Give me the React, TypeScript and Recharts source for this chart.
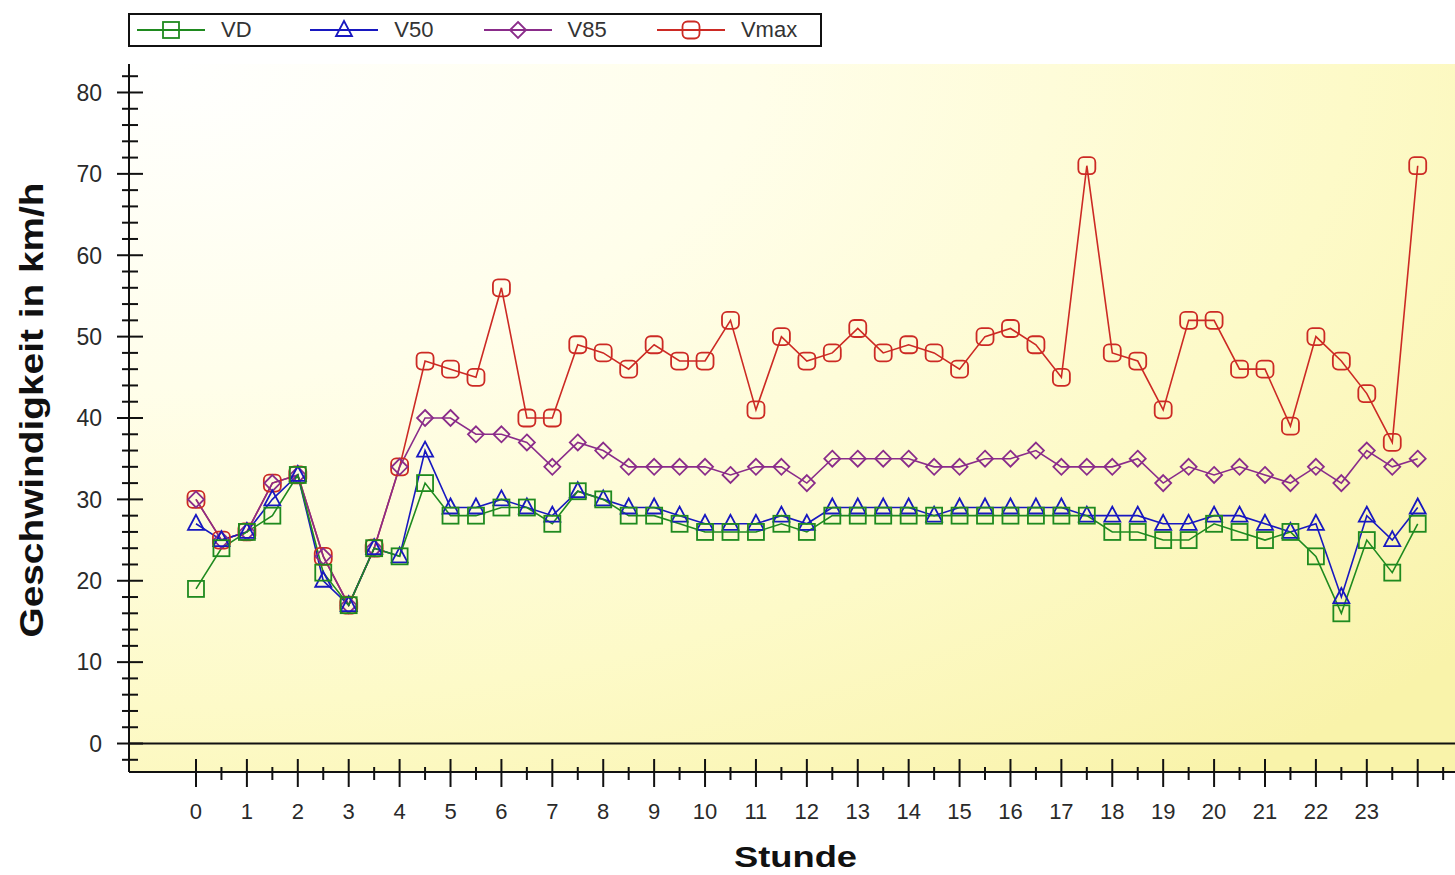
import React from 'react';
import { LineChart, Line, XAxis, YAxis, CartesianGrid, ReferenceLine } from 'recharts';

// Stunde (halbstündlich)
const HOURS = [
    0, 0.5, 1, 1.5, 2, 2.5, 3, 3.5, 4, 4.5, 5, 5.5, 6, 6.5, 7, 7.5, 8, 8.5, 9, 9.5,
    10, 10.5, 11, 11.5, 12, 12.5, 13, 13.5, 14, 14.5, 15, 15.5, 16, 16.5, 17, 17.5,
    18, 18.5, 19, 19.5, 20, 20.5, 21, 21.5, 22, 22.5, 23, 23.5, 24,
];

const VD = [
    19, 24, 26, 28, 33, 21, 17, 24, 23, 32, 28, 28, 29, 29, 27, 31, 30, 28, 28, 27,
    26, 26, 26, 27, 26, 28, 28, 28, 28, 28, 28, 28, 28, 28, 28, 28,
    26, 26, 25, 25, 27, 26, 25, 26, 23, 16, 25, 21, 27,
];

const V50 = [
    27, 25, 26, 30, 33, 20, 17, 24, 23, 36, 29, 29, 30, 29, 28, 31, 30, 29, 29, 28,
    27, 27, 27, 28, 27, 29, 29, 29, 29, 28, 29, 29, 29, 29, 29, 28,
    28, 28, 27, 27, 28, 28, 27, 26, 27, 18, 28, 25, 29,
];

const V85 = [
    30, 25, 26, 32, 33, 23, 17, 24, 34, 40, 40, 38, 38, 37, 34, 37, 36, 34, 34, 34,
    34, 33, 34, 34, 32, 35, 35, 35, 35, 34, 34, 35, 35, 36, 34, 34,
    34, 35, 32, 34, 33, 34, 33, 32, 34, 32, 36, 34, 35,
];

const VMAX = [
    30, 25, 26, 32, 33, 23, 17, 24, 34, 47, 46, 45, 56, 40, 40, 49, 48, 46, 49, 47,
    47, 52, 41, 50, 47, 48, 51, 48, 49, 48, 46, 50, 51, 49, 45, 71,
    48, 47, 41, 52, 52, 46, 46, 39, 50, 47, 43, 37, 71,
];

const X_LABELS = [
    '0', '1', '2', '3', '4', '5', '6', '7', '8', '9', '10', '11',
    '12', '13', '14', '15', '16', '17', '18', '19', '20', '21', '22', '23',
];
const Y_LABELS = [0, 10, 20, 30, 40, 50, 60, 70, 80];

const X_TICKS = Array.from({ length: 50 }, (_, i) => i / 2);
const Y_TICKS = Array.from({ length: 43 }, (_, i) => -2 + i * 2);

const SERIES = [
    { key: 'VD', color: '#1f8a1f', shape: 'square' },
    { key: 'V50', color: '#1818c0', shape: 'triangle' },
    { key: 'V85', color: '#8a2c8a', shape: 'diamond' },
    { key: 'Vmax', color: '#cc2a24', shape: 'round' },
];

const chartData = HOURS.map((h, i) => ({
    hour: h,
    VD: VD[i],
    V50: V50[i],
    V85: V85[i],
    Vmax: VMAX[i],
}));

const FONT = 'Arial, "Liberation Sans", sans-serif';
const AXIS = '#111';

const Marker = ({ shape, cx, cy, color }: { shape: string; cx: number; cy: number; color: string }) => {
    const sw = 1.8;
    if (shape === 'square') {
        return <rect x={cx - 8} y={cy - 8} width={16} height={16} fill="none" stroke={color} strokeWidth={sw} />;
    }
    if (shape === 'triangle') {
        return (
            <polygon
                points={`${cx},${cy - 9} ${cx - 8},${cy + 6} ${cx + 8},${cy + 6}`}
                fill="none"
                stroke={color}
                strokeWidth={sw}
            />
        );
    }
    if (shape === 'diamond') {
        return (
            <polygon
                points={`${cx},${cy - 8} ${cx + 8},${cy} ${cx},${cy + 8} ${cx - 8},${cy}`}
                fill="none"
                stroke={color}
                strokeWidth={sw}
            />
        );
    }
    return <rect x={cx - 8.5} y={cy - 8.5} width={17} height={17} rx={5} fill="none" stroke={color} strokeWidth={sw} />;
};

const makeDot = (shape: string, color: string, name: string) => (props: any) => {
    const { cx, cy, index } = props;
    if (cx == null || cy == null) return <g key={`${name}-${index}`} />;
    return (
        <g key={`${name}-${index}`}>
            <Marker shape={shape} cx={cx} cy={cy} color={color} />
        </g>
    );
};

const BottomTick = (props: any) => {
    const { x, y, payload } = props;
    const v = payload.value;
    const major = Number.isInteger(v);
    const label = major ? X_LABELS[v] : undefined;
    return (
        <g>
            <line x1={x} x2={x} y1={major ? y - 13 : y - 5} y2={major ? y + 15 : y + 8} stroke={AXIS} strokeWidth={2} />
            {label !== undefined && (
                <text x={x} y={y + 47} textAnchor="middle" fontSize={22} fill="#2a2a2a" fontFamily={FONT}>
                    {label}
                </text>
            )}
        </g>
    );
};

const TopTick = (props: any) => {
    const { x, y, payload } = props;
    const major = Number.isInteger(payload.value);
    return <line x1={x} x2={x} y1={y} y2={y + (major ? 13 : 7)} stroke={AXIS} strokeWidth={2} />;
};

const LeftTick = (props: any) => {
    const { x, y, payload } = props;
    const v = payload.value;
    const major = Y_LABELS.includes(v);
    return (
        <g>
            <line x1={x - (major ? 12 : 7)} x2={x + (major ? 14 : 9)} y1={y} y2={y} stroke={AXIS} strokeWidth={2} />
            {major && (
                <text x={x - 27} y={y} dy="0.36em" textAnchor="end" fontSize={23} fill="#2a2a2a" fontFamily={FONT}>
                    {v}
                </text>
            )}
        </g>
    );
};

const RightTick = (props: any) => {
    const { x, y, payload } = props;
    const major = Y_LABELS.includes(payload.value);
    return <line x1={x} x2={x - (major ? 14 : 8)} y1={y} y2={y} stroke={AXIS} strokeWidth={2} />;
};

const Legend = () => (
    <div
        style={{
            position: 'absolute',
            left: 128,
            top: 13,
            width: 694,
            height: 34,
            border: '2px solid #111',
            boxSizing: 'border-box',
            background: '#fff',
            display: 'flex',
            alignItems: 'center',
            paddingLeft: 7,
        }}
    >
        {SERIES.map(s => (
            <div key={s.key} style={{ width: 173.3, display: 'flex', alignItems: 'center', flexShrink: 0 }}>
                <svg width={68} height={24} style={{ display: 'block' }}>
                    <line x1={0} x2={68} y1={12} y2={12} stroke={s.color} strokeWidth={1.8} />
                    <Marker shape={s.shape} cx={34} cy={12} color={s.color} />
                </svg>
                <span style={{ marginLeft: 16, fontSize: 22, color: '#333', fontFamily: FONT, lineHeight: '24px' }}>
                    {s.key}
                </span>
            </div>
        ))}
    </div>
);

export default function App() {
    return (
        <div
            style={{
                position: 'absolute',
                left: 0,
                top: 0,
                width: 1455,
                height: 875,
                overflow: 'hidden',
                background: '#fff',
                fontFamily: FONT,
            }}
        >
            <LineChart width={1462} height={875} data={chartData} margin={{ top: 64, right: 0, bottom: 0, left: 0 }}>
                <defs>
                    <radialGradient id="plotBg" cx="0" cy="0" r="1.3" fx="0.02" fy="0">
                        <stop offset="0%" stopColor="#ffffff" />
                        <stop offset="35%" stopColor="#fffeea" />
                        <stop offset="70%" stopColor="#fdfac8" />
                        <stop offset="100%" stopColor="#f9f3aa" />
                    </radialGradient>
                </defs>
                <CartesianGrid horizontal={false} vertical={false} fill="url(#plotBg)" />
                <XAxis
                    dataKey="hour"
                    type="number"
                    domain={[-1.316, 24.87]}
                    allowDataOverflow
                    ticks={X_TICKS}
                    interval={0}
                    height={103}
                    tickSize={0}
                    tickMargin={0}
                    tickLine={false}
                    tick={<BottomTick />}
                    axisLine={{ stroke: AXIS, strokeWidth: 2 }}
                    label={{
                        content: ({ viewBox }: any) => (
                            <text
                                x={viewBox.x + viewBox.width / 2}
                                y={viewBox.y + 95}
                                textAnchor="middle"
                                fontSize={30}
                                fontWeight="bold"
                                fill="#111"
                                fontFamily={FONT}
                                textLength={123}
                                lengthAdjust="spacingAndGlyphs"
                            >
                                Stunde
                            </text>
                        ),
                    }}
                />
                <XAxis
                    xAxisId="top"
                    orientation="top"
                    dataKey="hour"
                    type="number"
                    domain={[-1.316, 24.87]}
                    allowDataOverflow
                    ticks={X_TICKS}
                    interval={0}
                    height={0}
                    tickSize={0}
                    tickMargin={0}
                    tickLine={false}
                    tick={<TopTick />}
                    axisLine={{ stroke: AXIS, strokeWidth: 2 }}
                />
                <YAxis
                    type="number"
                    domain={[-3.5, 83.5]}
                    allowDataOverflow
                    ticks={Y_TICKS}
                    interval={0}
                    width={129}
                    tickSize={0}
                    tickMargin={0}
                    tickLine={false}
                    tick={<LeftTick />}
                    axisLine={{ stroke: AXIS, strokeWidth: 2 }}
                    label={{
                        content: ({ viewBox }: any) => {
                            const cx = viewBox.x + 43;
                            const cy = viewBox.y + viewBox.height / 2 - 8;
                            return (
                                <text
                                    x={cx}
                                    y={cy}
                                    transform={`rotate(-90, ${cx}, ${cy})`}
                                    textAnchor="middle"
                                    fontSize={34}
                                    fontWeight="bold"
                                    fill="#111"
                                    fontFamily={FONT}
                                    textLength={455}
                                    lengthAdjust="spacingAndGlyphs"
                                >
                                    Geschwindigkeit in km/h
                                </text>
                            );
                        },
                    }}
                />
                <YAxis
                    yAxisId="right"
                    orientation="right"
                    type="number"
                    domain={[-3.5, 83.5]}
                    allowDataOverflow
                    ticks={Y_TICKS}
                    interval={0}
                    width={0}
                    tickSize={0}
                    tickMargin={0}
                    tickLine={false}
                    tick={<RightTick />}
                    axisLine={{ stroke: AXIS, strokeWidth: 2 }}
                />
                <ReferenceLine y={0} stroke={AXIS} strokeWidth={2} />
                {[...SERIES].reverse().map(s => (
                    <Line
                        key={s.key}
                        dataKey={s.key}
                        type="linear"
                        stroke={s.color}
                        strokeWidth={1.6}
                        dot={makeDot(s.shape, s.color, s.key)}
                        activeDot={false}
                        isAnimationActive={false}
                    />
                ))}
            </LineChart>
            <Legend />
        </div>
    );
}
